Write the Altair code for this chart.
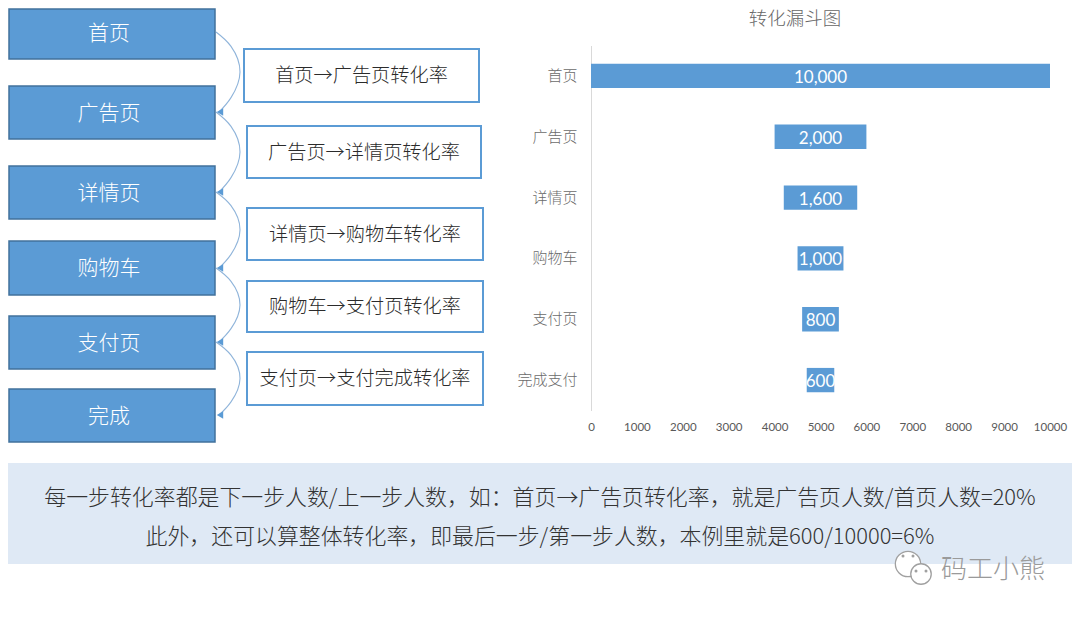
import altair as alt
import pandas as pd

# ---- chart values
stages = ["首页", "广告页", "详情页", "购物车", "支付页", "完成支付"]
people = [10000, 2000, 1600, 1000, 800, 600]
bar_labels = ["10,000", "2,000", "1,600", "1,000", "800", "600"]
x_ticks = [0, 1000, 2000, 3000, 4000, 5000, 6000, 7000, 8000, 9000, 10000]
chart_title = "转化漏斗图"

# ---- diagram texts
steps = ["首页", "广告页", "详情页", "购物车", "支付页", "完成"]
rates = ["首页→广告页转化率", "广告页→详情页转化率", "详情页→购物车转化率",
         "购物车→支付页转化率", "支付页→支付完成转化率"]
notes = ["每一步转化率都是下一步人数/上一步人数，如：首页→广告页转化率，就是广告页人数/首页人数=20%",
         "此外，还可以算整体转化率，即最后一步/第一步人数，本例里就是600/10000=6%"]
watermark = "码工小熊"

# ---- diagram layout (page pixels, minus the 8px body margin below)
M = 8
step_boxes = [(3, 215, 6, 59), (3, 215, 86, 139), (3, 215, 166, 219),
              (3, 215, 241, 295), (3, 215, 316, 369), (3, 215, 389, 442)]
# the page margin hides anything left of x=8 or above y=8: keep the borders inside it
step_draw = [(9, b, max(c, 9), d) for a, b, c, d in step_boxes]
rate_boxes = [(244, 479, 49, 102), (247, 481, 126, 178), (247, 483, 208, 260),
              (247, 483, 281, 332), (247, 483, 352, 405)]
links = [(32, 112), (112, 192), (192, 268), (268, 342), (342, 415)]
bulge = [0, 15, 24, 15, 3]
frac = [0, .18, .5, .82, 1]

FONT = "Noto Sans CJK SC"
BLUE = "#5b9bd5"

df = pd.DataFrame({"stage": stages, "people": people, "label": bar_labels})
df["start"] = (10000 - df["people"]) / 2
df["end"] = (10000 + df["people"]) / 2
df["mid"] = 5000

x_scale = alt.Scale(domain=[0, 10000], range=[591 - M, 1050 - M], nice=False)
y_scale = alt.Scale(domain=stages, range=[45.5 - M, 410.5 - M], paddingInner=0.6, paddingOuter=0.3)

bars = alt.Chart(df).mark_bar(color=BLUE).encode(
    x=alt.X("start:Q", scale=x_scale, title=None,
            axis=alt.Axis(values=x_ticks, grid=False, ticks=False, domain=False, format="d",
                          labelFont="Lato", labelFontSize=11.5, labelColor="#595959",
                          labelPadding=11, labelFlush=False, labelOverlap=False,
                          offset=-(602 - (410 - M)))),
    x2="end:Q",
    y=alt.Y("stage:N", scale=y_scale, sort=stages, title=None,
            axis=alt.Axis(grid=False, ticks=False, domain=True, domainColor="#d9d9d9", domainWidth=1,
                          labelFont=FONT, labelFontSize=15, labelFontWeight=300, labelColor="#6b6b6b",
                          labelPadding=14, offset=-(591 - M))),
)
bar_text = alt.Chart(df).mark_text(font="Lato", fontSize=17, color="white", baseline="middle", dy=2).encode(
    x=alt.X("mid:Q", scale=x_scale, axis=None),
    y=alt.Y("stage:N", scale=y_scale, sort=stages, axis=None),
    text="label:N",
)


def X(f):
    return alt.X(f, scale=None, axis=None)


def Y(f):
    return alt.Y(f, scale=None, axis=None)


def rect_df(boxes):
    return pd.DataFrame([{"x": a - M, "x2": b - M, "y": c - M, "y2": d - M} for a, b, c, d in boxes])


def text_df(boxes, texts, dy=0):
    return pd.DataFrame([{"x": (a + b) / 2 - M, "y": (c + d) / 2 - M + dy, "t": t}
                         for (a, b, c, d), t in zip(boxes, texts)])


def rects(boxes, **kw):
    return alt.Chart(rect_df(boxes)).mark_rect(**kw).encode(x=X("x:Q"), x2="x2:Q", y=Y("y:Q"), y2="y2:Q")


def texts(d, **kw):
    return alt.Chart(d).mark_text(font=FONT, baseline="middle", **kw).encode(x=X("x:Q"), y=Y("y:Q"), text="t:N")


panel = rects([(8, 1075, 463, 564)], fill="#dfe9f5")
step_rect = rects(step_draw, fill=BLUE, stroke="#41719c", strokeWidth=1.5)
rate_rect = rects(rate_boxes, fill="white", stroke=BLUE, strokeWidth=2)
step_text = texts(text_df(step_boxes, steps, dy=1), fontSize=21, color="white", fontWeight=300)
rate_text = texts(text_df(rate_boxes, rates, dy=0.5), fontSize=19.2, color="#2b2b2b", fontWeight=300)

link_rows = []
for k, (a, b) in enumerate(links):
    for i, (f, u) in enumerate(zip(frac, bulge)):
        link_rows.append({"k": k, "i": i, "x": 216 + u - M, "y": a + (b - a) * f - M})
link_lines = alt.Chart(pd.DataFrame(link_rows)).mark_line(
    color="#8fb4da", strokeWidth=1.1, interpolate="natural"
).encode(x=X("x:Q"), y=Y("y:Q"), detail="k:N", order="i:Q")
heads = alt.Chart(pd.DataFrame([{"x": 220 - M, "y": b - M} for _, b in links])).mark_point(
    shape="triangle-left", filled=True, size=55, color=BLUE, opacity=1
).encode(x=X("x:Q"), y=Y("y:Q"))

title = texts(pd.DataFrame([{"x": 795 - M, "y": 19 - M, "t": chart_title}]),
              fontSize=18.5, color="#666666", fontWeight=300)
note_text = texts(pd.DataFrame([{"x": 540 - M, "y": 498 - M, "t": notes[0]},
                                {"x": 540 - M, "y": 537 - M, "t": notes[1]}]),
                  fontSize=21.9, color="#333333", fontWeight=300)
mark_text = texts(pd.DataFrame([{"x": 993 - M, "y": 570 - M, "t": watermark}]),
                  fontSize=26, color="#9a9a9a", fontWeight=300)
icon = alt.Chart(pd.DataFrame([{"x": 908 - M, "y": 564 - M, "s": 640},
                               {"x": 921 - M, "y": 574 - M, "s": 420}])).mark_point(
    shape="circle", filled=True, fill="white", stroke="#a0a0a0", strokeWidth=1.3, opacity=1
).encode(x=X("x:Q"), y=Y("y:Q"), size=alt.Size("s:Q", scale=None, legend=None))
eyes = alt.Chart(pd.DataFrame([{"x": 903 - M, "y": 556 - M}, {"x": 913 - M, "y": 556 - M},
                               {"x": 916 - M, "y": 571 - M}, {"x": 926 - M, "y": 571 - M}])).mark_point(
    shape="circle", filled=True, color="#a0a0a0", size=9, opacity=1
).encode(x=X("x:Q"), y=Y("y:Q"))

chart = alt.layer(
    panel, link_lines, heads, step_rect, rate_rect, step_text, rate_text,
    bars, bar_text, title, note_text, icon, eyes, mark_text,
).resolve_scale(x="independent", y="independent").resolve_axis(x="independent", y="independent").properties(
    width=1064, height=602, padding=0,
    autosize=alt.AutoSizeParams(type="none"),
    background="white",
).configure_view(stroke=None)

chart.save("out.html", embed_options={"renderer": "svg", "actions": False})
